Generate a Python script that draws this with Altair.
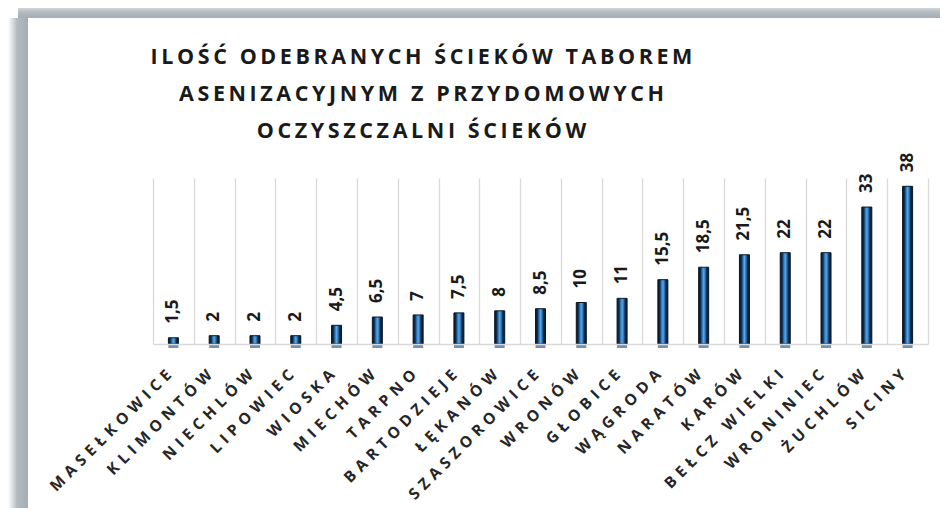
import altair as alt
import pandas as pd

categories = ["MASEŁKOWICE", "KLIMONTÓW", "NIECHLÓW", "LIPOWIEC", "WIOSKA", "MIECHÓW",
              "TARPNO", "BARTODZIEJE", "ŁĘKANÓW", "SZASZOROWICE", "WRONÓW", "GŁOBICE",
              "WĄGRODA", "NARATÓW", "KARÓW", "BEŁCZ WIELKI", "WRONINIEC", "ŻUCHLÓW", "SICINY"]
values = [1.5, 2, 2, 2, 4.5, 6.5, 7, 7.5, 8, 8.5, 10, 11, 15.5, 18.5, 21.5, 22, 22, 33, 38]
title_lines = ["ILOŚĆ ODEBRANYCH ŚCIEKÓW TABOREM",
               "ASENIZACYJNYM Z PRZYDOMOWYCH",
               "OCZYSZCZALNI ŚCIEKÓW"]

SP = "\u2006"
def spaced(s):
    return SP.join(list(s))

df = pd.DataFrame({
    "cat": categories,
    "val": values,
    "lab": [f"{v:g}".replace(".", ",") for v in values],
})

W, H = 775, 166
FONT = "Open Sans"

x = alt.X("cat:N", sort=categories, title=None,
          scale=alt.Scale(paddingInner=0, paddingOuter=0),
          axis=alt.Axis(labelAngle=-45, labelAlign="right", labelBaseline="middle",
                        labelFont=FONT, labelFontWeight="bold", labelFontSize=15.5,
                        labelColor="#262626", labelPadding=28, labelOffset=-5, ticks=False,
                        tickBand="extent", grid=True, gridColor="#d9d9d9", gridWidth=1.3,
                        domainColor="#d9d9d9", domainWidth=1.3, zindex=1,
                        labelExpr="join(split(datum.label, ''), '\u2004')"))
y = alt.Y("val:Q", scale=alt.Scale(domain=[0, 40]), axis=None)

def lin(stops, horiz):
    return alt.Gradient(gradient="linear", x1=0, y1=0,
                        x2=1 if horiz else 0, y2=0 if horiz else 1,
                        stops=[alt.GradientStop(color=c, offset=o) for c, o in stops])

one = alt.Data(values=[{"a": 1}])

card = alt.Chart(one).mark_rect(fill="white").encode(
    x=alt.value(-125), x2=alt.value(W + 40), y=alt.value(-160), y2=alt.value(H + 200))
top_band = alt.Chart(one).mark_rect(
    fill=lin([("#dfe3e6", 0), ("#b4bcc1", 0.5), ("#a3adb3", 1)], False)
).encode(x=alt.value(-135), x2=alt.value(W + 40), y=alt.value(-172), y2=alt.value(-160))
left_band = alt.Chart(one).mark_rect(
    fill=lin([("#ffffff", 0), ("#dde1e4", 0.2), ("#b3bbc0", 0.45), ("#a3adb3", 1)], True)
).encode(x=alt.value(-145), x2=alt.value(-125), y=alt.value(-160), y2=alt.value(H + 200))

bars = alt.Chart(df).mark_bar(
    size=10,
    fill=lin([("#071320", 0), ("#0f2f4f", 0.2), ("#2a78bd", 0.35), ("#5aa6e6", 0.5),
              ("#2a78bd", 0.65), ("#0f2f4f", 0.8), ("#071320", 1)], True),
    stroke="#0b1724", strokeWidth=1
).encode(x=x, y=y)

base_caps = alt.Chart(df).mark_bar(size=10, fill="#7590a8").encode(
    x=x, y=alt.value(H + 1), y2=alt.value(H + 4))

labels = alt.Chart(df).mark_text(
    angle=270, align="left", baseline="middle", dx=14,
    font=FONT, fontWeight="bold", fontSize=17, color="#1a1a1a"
).encode(x=x, y=y, text="lab:N")

chart = alt.layer(top_band, left_band, card, bars, base_caps, labels).properties(
    width=W, height=H,
    title=alt.TitleParams(
        text=[spaced(t) for t in title_lines],
        font=FONT, fontSize=21.5, fontWeight="bold", color="#1a1a1a",
        anchor="middle", frame="group", dx=-119, dy=136, offset=0, lineHeight=37),
    autosize=alt.AutoSizeParams(type="none"),
    padding={"left": 145, "top": 170, "right": 12, "bottom": 164},
    background="white",
).configure_view(stroke=None)

chart.save("out.html", embed_options={"renderer": "svg", "actions": False})
